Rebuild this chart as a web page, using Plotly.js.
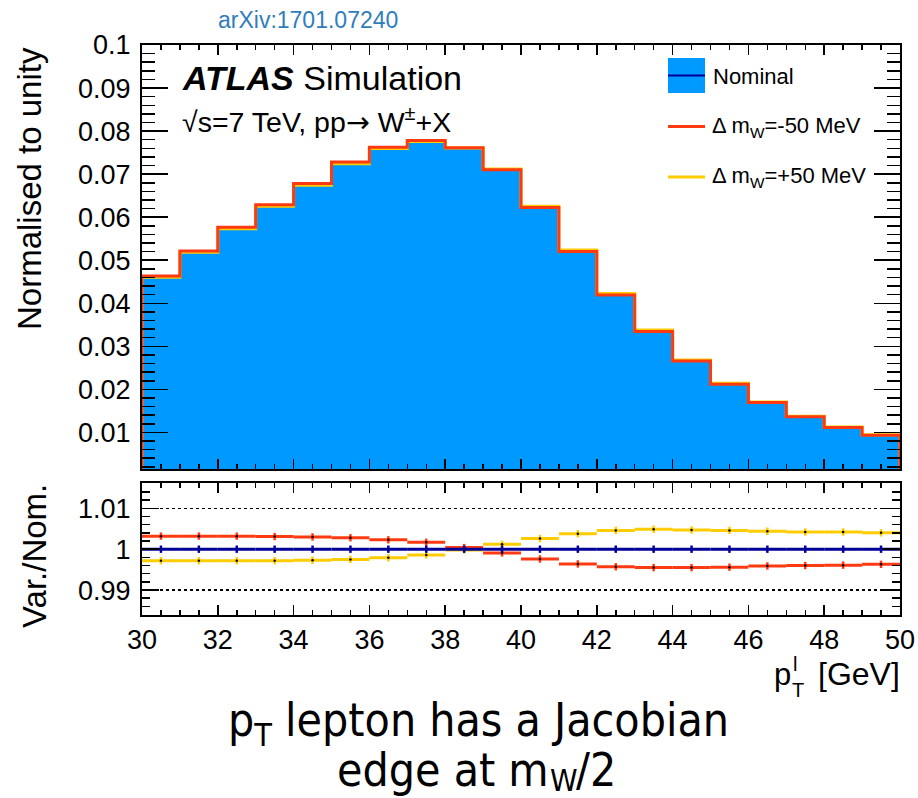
<!DOCTYPE html>
<html>
<head>
<meta charset="utf-8">
<script src="https://cdn.plot.ly/plotly-3.0.1.min.js"></script>
<style>
  html, body { margin: 0; padding: 0; background: #fff; }
  #plot { width: 918px; height: 798px; }
</style>
</head>
<body>
<div id="plot"></div>
<script>
// Lepton pT bins (GeV), 1 GeV wide
const binEdges = [30, 31, 32, 33, 34, 35, 36, 37, 38, 39, 40,
                  41, 42, 43, 44, 45, 46, 47, 48, 49, 50];

// Nominal distribution, normalised to unity
const nominal = [0.0462, 0.0520, 0.0575, 0.0627, 0.0676, 0.0726, 0.0761, 0.0777, 0.0761, 0.0711,
                 0.0624, 0.0522, 0.0421, 0.0336, 0.0267, 0.0213, 0.0170, 0.0137, 0.0112, 0.0094];

// Variation / nominal for the two W-mass shifts
const ratioMinus50 = [1.0032, 1.0032, 1.0032, 1.0031, 1.0030, 1.0028, 1.0023, 1.0017, 1.0004, 0.9991,
                      0.9976, 0.9964, 0.9957, 0.9955, 0.9955, 0.9956, 0.9959, 0.9960, 0.9961, 0.9963];
const ratioPlus50  = [0.9972, 0.9972, 0.9972, 0.9972, 0.9973, 0.9975, 0.9979, 0.9986, 0.9998, 1.0012,
                      1.0026, 1.0038, 1.0046, 1.0049, 1.0047, 1.0046, 1.0044, 1.0042, 1.0042, 1.0040];
const ratioNominal = [1, 1, 1, 1, 1, 1, 1, 1, 1, 1, 1, 1, 1, 1, 1, 1, 1, 1, 1, 1];
// Statistical uncertainty on the ratio
const ratioErr = [0.0009, 0.0009, 0.0009, 0.0009, 0.0009, 0.0009, 0.0009, 0.0009, 0.0009, 0.0009,
                  0.0009, 0.0009, 0.0009, 0.0009, 0.0009, 0.0009, 0.0009, 0.0009, 0.0009, 0.0009];

const yTickLabels = ['0.01', '0.02', '0.03', '0.04', '0.05', '0.06', '0.07', '0.08', '0.09', '0.1'];
const yTickValues = [0.01, 0.02, 0.03, 0.04, 0.05, 0.06, 0.07, 0.08, 0.09, 0.1];
const rTickValues = [0.99, 1, 1.01];
const rTickLabels = ['0.99', '1', '1.01'];
const xTickValues = [30, 32, 34, 36, 38, 40, 42, 44, 46, 48, 50];

// ---- styling ----
const W = 918, H = 798;
const FONT = 'Liberation Sans, Arial, Helvetica, sans-serif';
const NARROW = 'Liberation Sans Narrow, DejaVu Sans Condensed, Arial Narrow, sans-serif';
const C_FILL = '#0099ff';
const C_NOM  = '#000099';
const C_RED  = '#ff3a10';
const C_YEL  = '#ffcc00';
const px = v => v / W;
const py = v => 1 - v / H;

// Build a closed step outline of a histogram
function stepOutline(values) {
  const xs = [binEdges[0]], ys = [0];
  for (let i = 0; i < values.length; i++) { xs.push(binEdges[i]); ys.push(values[i]); }
  xs.push(binEdges[binEdges.length - 1]); ys.push(values[values.length - 1]);
  xs.push(binEdges[binEdges.length - 1]); ys.push(0);
  return { x: xs, y: ys };
}
const centers = binEdges.slice(0, -1).map((e, i) => (e + binEdges[i + 1]) / 2);
const halfWidths = binEdges.slice(0, -1).map((e, i) => (binEdges[i + 1] - e) / 2);

const histMinus = nominal.map((v, i) => v * ratioMinus50[i]);
const histPlus  = nominal.map((v, i) => v * ratioPlus50[i]);

const nomStep = stepOutline(nominal);
const minusStep = stepOutline(histMinus);
const plusStep = stepOutline(histPlus);

const traces = [
  { x: nomStep.x, y: nomStep.y, type: 'scatter', mode: 'lines', line: { shape: 'hv', width: 0, color: C_FILL },
    fill: 'tozeroy', fillcolor: C_FILL, xaxis: 'x', yaxis: 'y', hoverinfo: 'skip' },
  { x: plusStep.x, y: plusStep.y, type: 'scatter', mode: 'lines', line: { shape: 'hv', width: 3, color: C_YEL },
    xaxis: 'x', yaxis: 'y', hoverinfo: 'skip' },
  { x: minusStep.x, y: minusStep.y, type: 'scatter', mode: 'lines', line: { shape: 'hv', width: 3, color: C_RED },
    xaxis: 'x', yaxis: 'y', hoverinfo: 'skip' }
];

function ratioTrace(vals, color, dotColor) {
  return {
    x: centers, y: vals, type: 'scatter', mode: 'markers',
    marker: { size: 2.5, color: dotColor },
    error_x: { type: 'data', array: halfWidths, symmetric: true, width: 0, thickness: 3, color: color },
    error_y: { type: 'data', array: ratioErr, symmetric: true, width: 0, thickness: 2.5, color: color },
    xaxis: 'x2', yaxis: 'y2', hoverinfo: 'skip'
  };
}
traces.push(ratioTrace(ratioPlus50, C_YEL, '#000'));
traces.push(ratioTrace(ratioMinus50, C_RED, '#000'));
traces.push(ratioTrace(ratioNominal, C_NOM, C_NOM));

const tickFont = { family: FONT, size: 27, color: '#000' };
const axisCommon = {
  showline: true, linecolor: '#000', linewidth: 2, mirror: 'allticks',
  ticks: 'inside', tickcolor: '#000', tickwidth: 1.5,
  zeroline: false, showgrid: false, fixedrange: true
};

const xDomain = [px(142), px(900)];

function label(text, x, y, size, opts) {
  return Object.assign({
    text: text, xref: 'paper', yref: 'paper', x: px(x), y: py(y),
    xanchor: 'left', yanchor: 'middle', showarrow: false, borderpad: 0,
    font: { family: FONT, size: size, color: '#000' }
  }, opts || {});
}
const captionFont = s => ({ family: NARROW, size: s, color: '#000' });

const layout = {
  width: W, height: H,
  margin: { l: 0, r: 0, t: 0, b: 0 },
  paper_bgcolor: '#fff', plot_bgcolor: 'rgba(0,0,0,0)',
  showlegend: false,
  font: { family: FONT, color: '#000' },
  xaxis: Object.assign({}, axisCommon, {
    domain: xDomain, anchor: 'y', range: [30, 50],
    tickvals: xTickValues, ticklen: 10, showticklabels: false,
    minor: { dtick: 0.5, tick0: 30, ticklen: 5, ticks: 'inside', tickcolor: '#000', tickwidth: 1.5 }
  }),
  yaxis: Object.assign({}, axisCommon, {
    domain: [py(469), py(45)], anchor: 'x', range: [0.0015, 0.1],
    tickvals: yTickValues, ticktext: yTickLabels, ticklen: 26,
    tickfont: tickFont, ticklabelstandoff: 4,
    minor: { dtick: 0.002, tick0: 0, ticklen: 13, ticks: 'inside', tickcolor: '#000', tickwidth: 1.5 }
  }),
  xaxis2: Object.assign({}, axisCommon, {
    domain: xDomain, anchor: 'y2', range: [30, 50],
    tickvals: xTickValues, ticklen: 10, tickfont: tickFont,
    minor: { dtick: 0.5, tick0: 30, ticklen: 5, ticks: 'inside', tickcolor: '#000', tickwidth: 1.5 }
  }),
  yaxis2: Object.assign({}, axisCommon, {
    domain: [py(615), py(483)], anchor: 'x2', range: [0.9839, 1.0162],
    tickvals: rTickValues, ticktext: rTickLabels, ticklen: 17,
    tickfont: tickFont, ticklabelstandoff: 4,
    showgrid: true, gridcolor: '#000', griddash: 'dot', gridwidth: 1.2,
    minor: { dtick: 0.002, tick0: 1, ticklen: 8, ticks: 'inside', tickcolor: '#000', tickwidth: 1.5, showgrid: false }
  }),
  shapes: [
    // legend keys
    { type: 'rect', xref: 'paper', yref: 'paper', x0: px(668), x1: px(705), y0: py(93), y1: py(58),
      fillcolor: C_FILL, line: { width: 0 } },
    { type: 'line', xref: 'paper', yref: 'paper', x0: px(668), x1: px(705), y0: py(75.5), y1: py(75.5),
      line: { color: C_NOM, width: 2 } },
    { type: 'line', xref: 'paper', yref: 'paper', x0: px(668), x1: px(705), y0: py(126.5), y1: py(126.5),
      line: { color: C_RED, width: 3 } },
    { type: 'line', xref: 'paper', yref: 'paper', x0: px(668), x1: px(705), y0: py(177), y1: py(177),
      line: { color: C_YEL, width: 3 } }
  ],
  annotations: [
    label('arXiv:1701.07240', 217, 20, 23, { font: { family: FONT, size: 23, color: '#2f7dbb' } }),
    label('<b><i>ATLAS</i></b> Simulation', 181, 78, 34),
    label('\u221As=7 TeV, pp<span style="font-family:DejaVu Sans">\u2192</span> W<sup>\u00b1</sup>+X', 181, 120, 28.5),
    label('Nominal', 712, 76, 22),
    label('\u0394 m<sub>W</sub>=-50 MeV', 711, 127, 22),
    label('\u0394 m<sub>W</sub>=+50 MeV', 711, 177, 22),
    label('Normalised to unity', 30, 189, 33, { xanchor: 'center', textangle: -90 }),
    label('Var./Nom.', 34, 556, 33, { xanchor: 'center', textangle: -90 }),
    // x-axis title with stacked super/subscript
    label('p', 773, 674, 31),
    label('l', 792, 664, 20),
    label('T', 791, 690, 20),
    label('[GeV]', 901, 674, 32, { xanchor: 'right' }),
    // caption, first line
    label('p<sub>T</sub> lepton has a Jacobian', 478, 723, 46,
          { xanchor: 'center', font: captionFont(46) }),
    // caption, second line (subscript placed by hand to keep it inside the page)
    label('edge at m', 550, 770, 46, { xanchor: 'right', font: captionFont(46) }),
    label('W', 549, 780, 31, { font: captionFont(31) }),
    label('/2', 575, 770, 46, { font: captionFont(46) })
  ]
};

Plotly.newPlot('plot', traces, layout, { staticPlot: true, displayModeBar: false });
</script>
</body>
</html>
